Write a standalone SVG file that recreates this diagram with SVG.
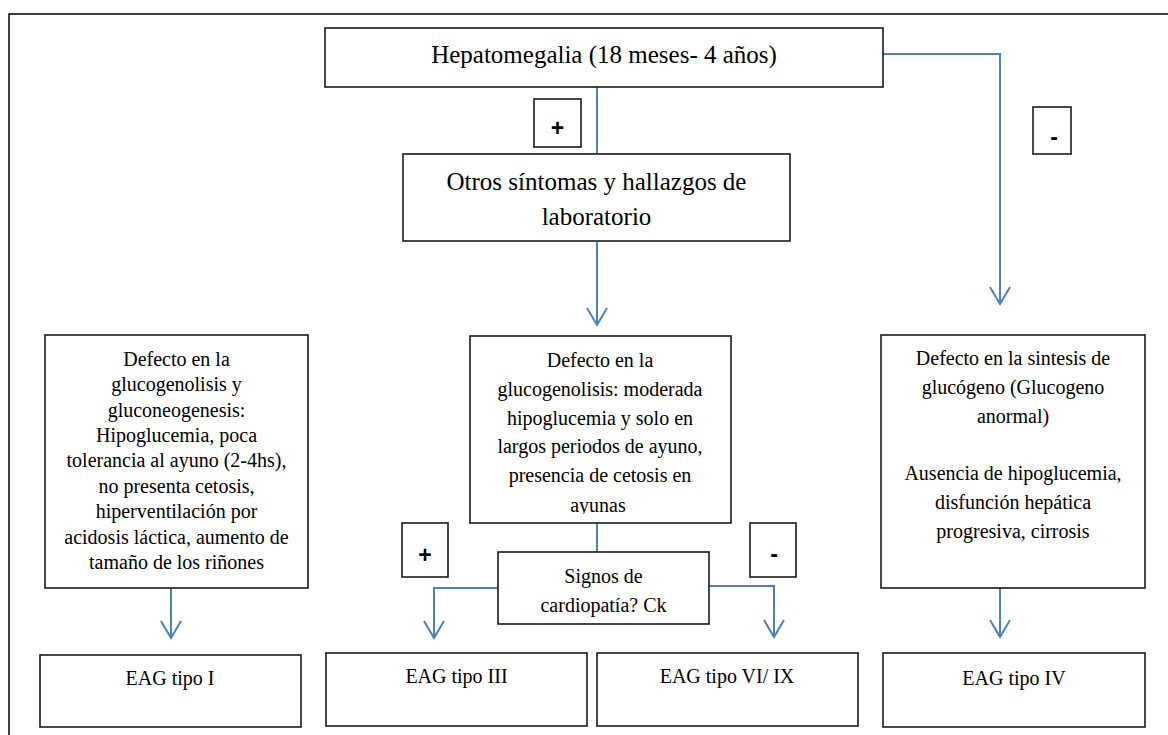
<svg xmlns="http://www.w3.org/2000/svg" width="1168" height="735" viewBox="0 0 1168 735">
  <style>
    .box { fill: #ffffff; stroke: #1a1a1a; stroke-width: 1.6; }
    .t { font-family: "Liberation Serif", "Times New Roman", serif; fill: #000; text-anchor: middle; }
    .t20 { font-size: 20px; }
    .t25 { font-size: 25px; }
    .sign { font-family: "Liberation Sans", Arial, sans-serif; font-weight: bold; font-size: 23px; fill: #000; text-anchor: middle; }
    .conn { fill: none; stroke: #4f81bd; stroke-width: 2; }
    .arrow { fill: none; stroke: #4f81bd; stroke-width: 2; }
    .frame { fill: none; stroke: #000; stroke-width: 1.5; }
  </style>
  <defs>
    <marker id="vhead" markerUnits="userSpaceOnUse" markerWidth="40" markerHeight="40" refX="0" refY="0" orient="auto" overflow="visible">
      <path class="arrow" d="M-17,-10 L0,0 L-17,10"/>
    </marker>
    <clipPath id="clipMid">
      <rect x="470" y="336" width="261" height="178"/>
    </clipPath>
  </defs>

  <rect width="1168" height="735" fill="#ffffff"/>

  <!-- page frame -->
  <path class="frame" d="M9,735 V14 H1168"/>

  <!-- connectors -->
  <g id="connectors">
    <path class="conn" d="M597,87 V154"/>
    <path class="conn" d="M597,242 V325" marker-end="url(#vhead)"/>
    <path class="conn" d="M883,54 H1000 V304" marker-end="url(#vhead)"/>
    <path class="conn" d="M171,588 V638" marker-end="url(#vhead)"/>
    <path class="conn" d="M597,523 V552"/>
    <path class="conn" d="M498,588 H434 V638" marker-end="url(#vhead)"/>
    <path class="conn" d="M709,586 H774 V637" marker-end="url(#vhead)"/>
    <path class="conn" d="M1000,588 V637" marker-end="url(#vhead)"/>
  </g>

  <g id="hepatomegalia">
    <rect class="box" x="325" y="28" width="558" height="59"/>
    <text class="t t25" x="604" y="63">Hepatomegalia (18 meses- 4 años)</text>
  </g>

  <g id="plus-top">
    <rect class="box" x="534" y="99" width="47" height="48"/>
    <text class="sign" x="557.5" y="136">+</text>
  </g>

  <g id="minus-top">
    <rect class="box" x="1033" y="107" width="38" height="47"/>
    <text class="sign" x="1054" y="145">-</text>
  </g>

  <g id="otros">
    <rect class="box" x="403" y="154" width="387" height="87"/>
    <text class="t t25" x="596.5" y="190">Otros síntomas y hallazgos de</text>
    <text class="t t25" x="596.5" y="225">laboratorio</text>
  </g>

  <g id="defecto-tipo1">
    <rect class="box" x="45" y="335" width="263" height="253"/>
    <text class="t t20" x="176.5" y="366">Defecto en la</text>
    <text class="t t20" x="176.5" y="391.4">glucogenolisis y</text>
    <text class="t t20" x="176.5" y="416.7">gluconeogenesis:</text>
    <text class="t t20" x="176.5" y="442.1">Hipoglucemia, poca</text>
    <text class="t t20" x="176.5" y="467.4">tolerancia al ayuno (2-4hs),</text>
    <text class="t t20" x="176.5" y="492.8">no presenta cetosis,</text>
    <text class="t t20" x="176.5" y="518.1">hiperventilación por</text>
    <text class="t t20" x="176.5" y="543.5">acidosis láctica, aumento de</text>
    <text class="t t20" x="176.5" y="568.8">tamaño de los riñones</text>
  </g>

  <g id="defecto-glucogenolisis">
    <rect class="box" x="470" y="336" width="261" height="187"/>
    <g clip-path="url(#clipMid)">
      <text class="t t20" x="600" y="367">Defecto en la</text>
      <text class="t t20" x="600" y="395.8">glucogenolisis: moderada</text>
      <text class="t t20" x="600" y="424.6">hipoglucemia y solo en</text>
      <text class="t t20" x="600" y="453.4">largos periodos de ayuno,</text>
      <text class="t t20" x="600" y="482.2">presencia de cetosis en</text>
      <text class="t t20" x="598" y="511.5">ayunas</text>
    </g>
  </g>

  <g id="defecto-sintesis">
    <rect class="box" x="881" y="335" width="264" height="253"/>
    <text class="t t20" x="1013" y="365">Defecto en la sintesis de</text>
    <text class="t t20" x="1013" y="394">glucógeno (Glucogeno</text>
    <text class="t t20" x="1013" y="423">anormal)</text>
    <text class="t t20" x="1013" y="480">Ausencia de hipoglucemia,</text>
    <text class="t t20" x="1013" y="509">disfunción hepática</text>
    <text class="t t20" x="1013" y="538">progresiva, cirrosis</text>
  </g>

  <g id="plus-bottom">
    <rect class="box" x="402" y="523" width="46" height="54"/>
    <text class="sign" x="425" y="563">+</text>
  </g>

  <g id="minus-bottom">
    <rect class="box" x="750" y="523" width="46" height="54"/>
    <text class="sign" x="774" y="562">-</text>
  </g>

  <g id="signos">
    <rect class="box" x="498" y="552" width="211" height="72"/>
    <text class="t t20" x="603.5" y="583">Signos de</text>
    <text class="t t20" x="603.5" y="612">cardiopatía? Ck</text>
  </g>

  <g id="eag-1">
    <rect class="box" x="40" y="655" width="261" height="72"/>
    <text class="t t20" x="170" y="685">EAG tipo I</text>
  </g>

  <g id="eag-3">
    <rect class="box" x="326" y="653" width="261" height="73"/>
    <text class="t t20" x="456.5" y="683">EAG tipo III</text>
  </g>

  <g id="eag-6-9">
    <rect class="box" x="597" y="653" width="261" height="73"/>
    <text class="t t20" x="727" y="683">EAG tipo VI/ IX</text>
  </g>

  <g id="eag-4">
    <rect class="box" x="883" y="653" width="262" height="74"/>
    <text class="t t20" x="1014" y="685">EAG tipo IV</text>
  </g>
</svg>
